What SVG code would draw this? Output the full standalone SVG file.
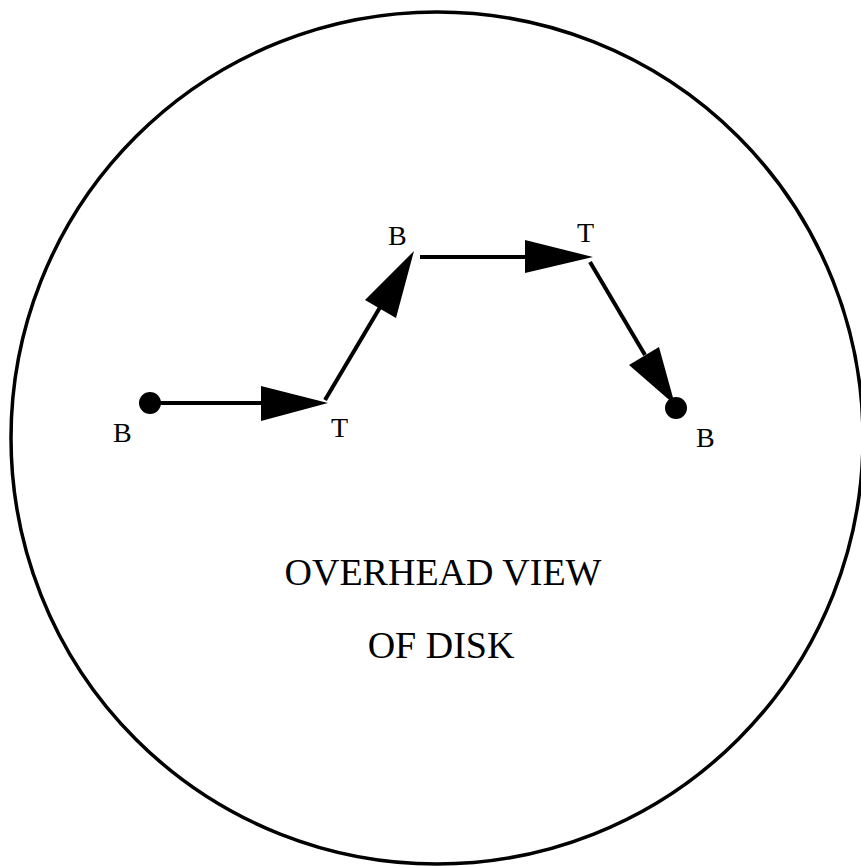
<svg xmlns="http://www.w3.org/2000/svg" width="861" height="866" viewBox="0 0 861 866">
<style>
.disk{fill:none;stroke:#000;stroke-width:3.5}
.ln{stroke:#000;stroke-width:4;fill:none}
.hd{fill:#000}
.lbl{font-family:"Liberation Serif","Times New Roman",serif;font-size:28px;fill:#000}
.title{font-family:"Liberation Serif","Times New Roman",serif;font-size:38px;fill:#000;text-anchor:middle}
</style>
<rect width="861" height="866" fill="#fff"/>
<g id="disk"><circle class="disk" cx="437" cy="438" r="426"/></g>
<g id="connectors">
<line class="ln" x1="150" y1="403" x2="265" y2="403"/>
<polygon class="hd" points="261,386 328,403 261,421"/>
<line class="ln" x1="325" y1="400" x2="382" y2="304"/>
<polygon class="hd" points="365,300 414,251 396,318"/>
<line class="ln" x1="420" y1="257" x2="528" y2="257"/>
<polygon class="hd" points="525,240 593,257 525,273"/>
<line class="ln" x1="590" y1="262" x2="645" y2="355"/>
<polygon class="hd" points="629,365 659,347 675,405"/>
</g>
<g id="start"><circle cx="150" cy="403" r="11"/><text class="lbl" x="113" y="442">B</text></g>
<g id="t1"><text class="lbl" x="331" y="437">T</text></g>
<g id="b2"><text class="lbl" x="388" y="245">B</text></g>
<g id="t2"><text class="lbl" x="577" y="242">T</text></g>
<g id="end"><circle cx="676" cy="408" r="11"/><text class="lbl" x="696" y="447">B</text></g>
<g id="caption">
<text class="title" x="443" y="585">OVERHEAD VIEW</text>
<text class="title" x="441" y="658">OF DISK</text>
</g>
</svg>
